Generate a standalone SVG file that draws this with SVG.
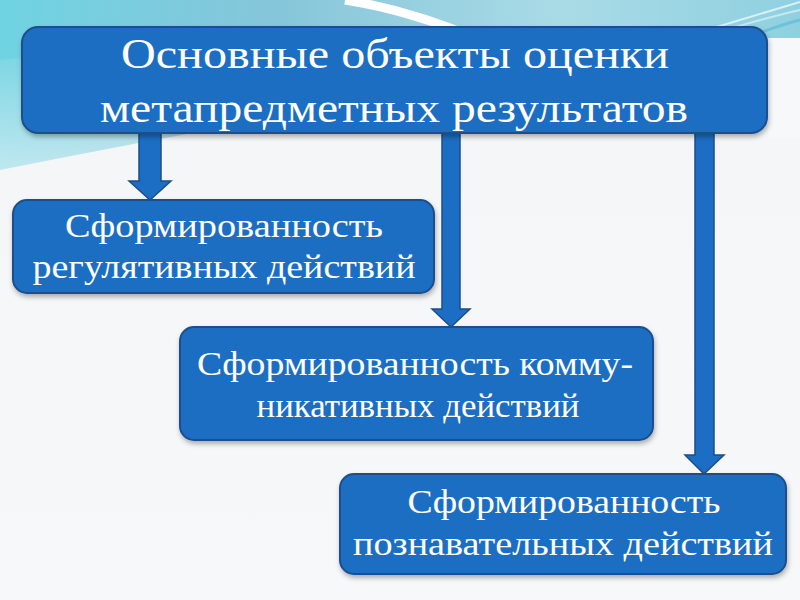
<svg xmlns="http://www.w3.org/2000/svg" width="800" height="600" viewBox="0 0 800 600">
<defs>
<linearGradient id="bg" x1="0" y1="0" x2="0" y2="1">
<stop offset="0" stop-color="#f3f5f7"/>
<stop offset="1" stop-color="#f7f8f9"/>
</linearGradient>
<linearGradient id="top" x1="0" y1="0" x2="1" y2="0">
<stop offset="0" stop-color="#6fd3e2"/>
<stop offset="0.35" stop-color="#86c6da"/>
<stop offset="0.7" stop-color="#a9dbe6"/>
<stop offset="1" stop-color="#8fd0e0"/>
</linearGradient>
<linearGradient id="fade" x1="0" y1="0" x2="0" y2="1">
<stop offset="0" stop-color="#f4f6f8" stop-opacity="0"/>
<stop offset="1" stop-color="#f4f6f8" stop-opacity="1"/>
</linearGradient>
<filter id="sh" x="-5%" y="-5%" width="110%" height="120%">
<feDropShadow dx="1" dy="3" stdDeviation="2.5" flood-color="#000" flood-opacity="0.3"/>
</filter>
<style>
.box{fill:#1b6ec3;stroke:#1b4e8c;stroke-width:2;filter:url(#sh)}
.arr{fill:#1b6ec3;stroke:#1b4e8c;stroke-width:1.5;stroke-linejoin:miter}
.t{fill:#ffffff;font-family:"Liberation Serif","DejaVu Serif",serif;text-anchor:middle}
.h{font-size:42px}
.n{font-size:33px}
</style>
</defs>
<rect width="800" height="600" fill="url(#bg)"/>
<g id="decor">
<path d="M0,0 H800 V60 Q600,50 0,170 Z" fill="url(#top)"/>
<path d="M0,60 Q400,20 800,40 V150 Q400,120 0,260 Z" fill="url(#fade)"/>
<path d="M345,0 Q410,10 480,40" fill="none" stroke="#ffffff" stroke-width="9"/>
<path d="M700,32 Q760,14 800,2" fill="none" stroke="#d9f1f6" stroke-width="2"/>
<path d="M705,36 Q765,18 800,10" fill="none" stroke="#c7e9f1" stroke-width="2"/>
<path d="M740,40 Q780,25 800,20" fill="none" stroke="#6cc2d8" stroke-width="3"/>
<rect x="768" y="38" width="32" height="100" fill="#f6f8f9"/>
</g>
<g id="connectors">
<polygon class="arr" points="139,130 161,130 161,181 171,181 150,200 129,181 139,181"/>
<polygon class="arr" points="442,130 460,130 460,309 470,309 451,327 432,309 442,309"/>
<polygon class="arr" points="695,130 714,130 714,455 724,455 704,474 685,455 695,455"/>
</g>
<g id="main">
<rect class="box" x="22" y="27" width="745" height="106" rx="16"/>
<text class="t h" x="395" y="68" textLength="548" lengthAdjust="spacingAndGlyphs">Основные объекты оценки</text>
<text class="t h" x="394" y="122" textLength="588" lengthAdjust="spacingAndGlyphs">метапредметных результатов</text>
</g>
<g id="reg">
<rect class="box" x="13" y="200" width="421" height="93" rx="14"/>
<text class="t n" x="224" y="237" textLength="318" lengthAdjust="spacingAndGlyphs">Сформированность</text>
<text class="t n" x="224" y="278" textLength="383" lengthAdjust="spacingAndGlyphs">регулятивных действий</text>
</g>
<g id="comm">
<rect class="box" x="180" y="327" width="473" height="113" rx="14"/>
<text class="t n" x="415" y="375" textLength="436" lengthAdjust="spacingAndGlyphs">Сформированность комму-</text>
<text class="t n" x="418" y="417" textLength="323" lengthAdjust="spacingAndGlyphs">никативных действий</text>
</g>
<g id="cog">
<rect class="box" x="340" y="474" width="446" height="100" rx="14"/>
<text class="t n" x="564" y="513" textLength="313" lengthAdjust="spacingAndGlyphs">Сформированность</text>
<text class="t n" x="563" y="555" textLength="420" lengthAdjust="spacingAndGlyphs">познавательных действий</text>
</g>
</svg>
